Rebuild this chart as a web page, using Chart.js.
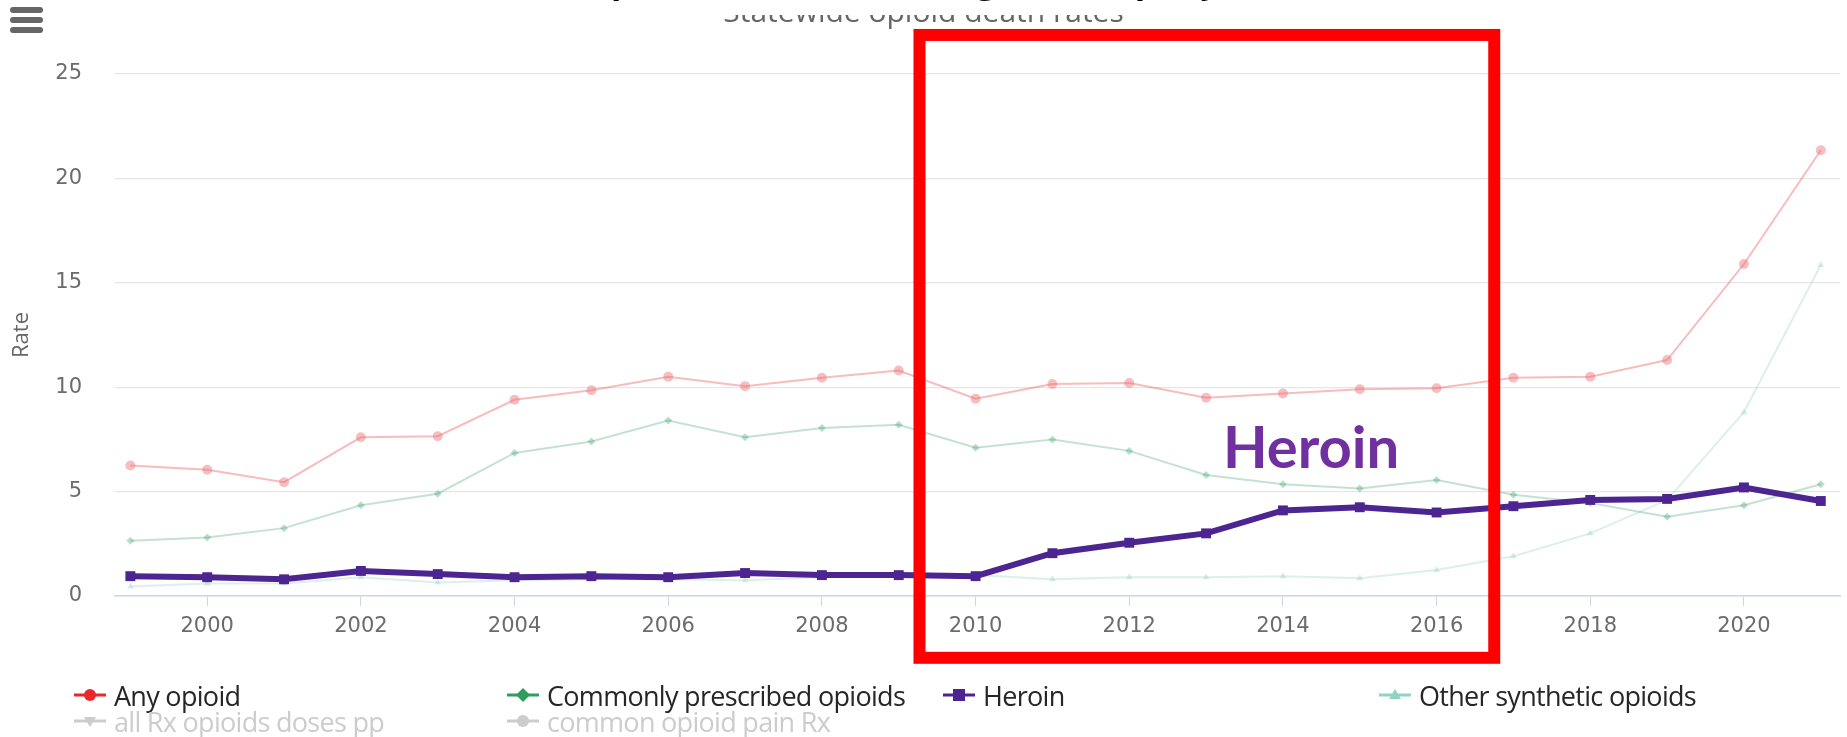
<!DOCTYPE html>
<html>
<head>
<meta charset="utf-8">
<script src="https://cdn.jsdelivr.net/npm/chart.js@4.4.1/dist/chart.umd.min.js"></script>
<style>
  html, body { margin: 0; padding: 0; background: #fff; overflow: hidden; }
  #wrap { position: relative; width: 1847px; height: 737px; overflow: hidden; }
  #chart { position: absolute; left: 0; top: 0; }
  .subtitle { position: absolute; left: 0; top: -4px; width: 1847px; text-align: center;
    font: 30px/1 "Open Sans", sans-serif; color: #666; white-space: nowrap; }
  .title { position: absolute; left: 520px; top: -37px; width: 820px; height: 52px; text-align: center;
    font: bold 34px/1 "Open Sans", sans-serif; color: #000; white-space: nowrap; background: #fff; }
  .menu { position: absolute; left: 10px; width: 33px; height: 6px; border-radius: 3px; background: #666; }
  .legend-item { position: absolute; display: flex; align-items: center; height: 26px;
    font: 27px "Open Sans", sans-serif; letter-spacing: -0.7px; color: #262626; white-space: nowrap; }
  .legend-item canvas { margin-right: 7px; }
  .legend-item.off { color: #cccccc; }
</style>
</head>
<body>
<div id="wrap">
  <canvas id="chart" width="1847" height="737"></canvas>
  <div class="subtitle">Statewide opioid death rates</div>
  <div class="title">Opioid deaths, including heroin, per year</div>
  <div class="menu" style="top:7px"></div>
  <div class="menu" style="top:17px"></div>
  <div class="menu" style="top:27px"></div>
  <div id="legend"></div>
</div>
<script>
const years = [1999, 2000, 2001, 2002, 2003, 2004, 2005, 2006, 2007, 2008, 2009, 2010,
  2011, 2012, 2013, 2014, 2015, 2016, 2017, 2018, 2019, 2020, 2021];
const anyOpioid = [6.25, 6.05, 5.45, 7.6, 7.65, 9.4, 9.85, 10.5, 10.05, 10.45, 10.8, 9.45,
  10.15, 10.2, 9.5, 9.7, 9.9, 9.95, 10.45, 10.5, 11.3, 15.9, 21.35];
const commonRx = [2.65, 2.8, 3.25, 4.35, 4.9, 6.85, 7.4, 8.4, 7.6, 8.05, 8.2, 7.1,
  7.5, 6.95, 5.8, 5.35, 5.15, 5.55, 4.85, 4.45, 3.8, 4.35, 5.35];
const heroin = [0.95, 0.9, 0.8, 1.2, 1.05, 0.9, 0.95, 0.9, 1.1, 1.0, 1.0, 0.95,
  2.05, 2.55, 3.0, 4.1, 4.25, 4.0, 4.3, 4.6, 4.65, 5.2, 4.55];
const otherSynthetic = [0.45, 0.6, 0.6, 0.9, 0.65, 0.75, 0.8, 0.8, 0.75, 0.9, 1.0, 1.0,
  0.8, 0.9, 0.9, 0.95, 0.85, 1.25, 1.9, 3.0, 4.6, 8.8, 15.85];
const xTickYears = [2000, 2002, 2004, 2006, 2008, 2010, 2012, 2014, 2016, 2018, 2020];
const yTicks = [0, 5, 10, 15, 20, 25];

function points(values) {
  return years.map((yr, i) => ({ x: yr, y: values[i] }));
}

// legend colours (full) vs faded colours used on the plot
const series = [
  { label: "Any opioid", data: anyOpioid, key: "#e8282b", line: "rgba(232,70,76,0.36)",
    fill: "rgba(236,110,116,0.45)", style: "circle", r: 5, w: 2 },
  { label: "Commonly prescribed opioids", data: commonRx, key: "#2e9e5e", line: "rgba(60,160,110,0.3)",
    fill: "rgba(60,160,110,0.35)", style: "rectRot", r: 4, w: 2 },
  { label: "Heroin", data: heroin, key: "#4c2590", line: "#4c2590",
    fill: "#4c2590", style: "rect", r: 7, w: 6, top: true },
  { label: "Other synthetic opioids", data: otherSynthetic, key: "#8fd3c1", line: "rgba(140,205,185,0.3)",
    fill: "rgba(140,205,185,0.35)", style: "triangle", r: 4, w: 2 },
  { label: "all Rx opioids doses pp", data: [], key: "#cccccc", style: "triangle", rotation: 180, r: 4, w: 2, hidden: true },
  { label: "common opioid pain Rx", data: [], key: "#cccccc", style: "circle", r: 4, w: 2, hidden: true }
];

const calloutPlugin = {
  id: "heroinCallout",
  afterDraw(chart) {
    const { ctx, scales: { x, y } } = chart;
    ctx.save();
    ctx.fillStyle = "#7030a0";
    ctx.font = "bold 58px Lato, 'Open Sans', sans-serif";
    ctx.textBaseline = "alphabetic";
    ctx.fillText("Heroin", x.getPixelForValue(2013.22), y.getPixelForValue(6.15));
    ctx.strokeStyle = "#ff0000";
    ctx.lineWidth = 12;
    const x0 = x.getPixelForValue(2009.27), x1 = x.getPixelForValue(2016.75);
    const yTop = y.getPixelForValue(26.87), yBot = y.getPixelForValue(-2.96);
    ctx.strokeRect(x0, yTop, x1 - x0, yBot - yTop);
    ctx.restore();
  }
};

const tickFont = { family: "'DejaVu Sans', sans-serif", size: 21 };

const ctx = document.getElementById("chart").getContext("2d");
const chart = new Chart(ctx, {
  type: "line",
  data: {
    datasets: series.map(s => ({
      label: s.label,
      data: points(s.data),
      hidden: !!s.hidden,
      borderColor: s.line || s.key,
      backgroundColor: s.fill || s.key,
      borderWidth: s.w,
      pointStyle: s.style,
      pointRadius: s.r,
      pointBorderWidth: 0,
      pointRotation: s.rotation || 0,
      tension: 0,
      order: s.top ? 0 : 1
    }))
  },
  options: {
    responsive: false,
    animation: false,
    layout: { padding: { top: 74, right: 4, bottom: 97, left: 0 } },
    plugins: {
      legend: { display: false },
      tooltip: { enabled: false },
      title: { display: false }
    },
    scales: {
      x: {
        type: "linear",
        min: 1998.8,
        max: 2021.25,
        afterBuildTicks: scale => { scale.ticks = xTickYears.map(v => ({ value: v })); },
        afterFit: scale => { scale.height = 44; },
        ticks: {
          color: "#6b6b6b",
          font: tickFont,
          padding: 8,
          autoSkip: false,
          maxRotation: 0,
          callback: v => String(v)
        },
        grid: { drawOnChartArea: false, drawTicks: true, tickLength: 10, color: "#ccd6eb" },
        border: { color: "#ccd6eb", width: 1.5 }
      },
      y: {
        min: 0,
        max: 25,
        afterBuildTicks: scale => { scale.ticks = yTicks.map(v => ({ value: v })); },
        afterFit: scale => { scale.width = 115; },
        ticks: {
          color: "#6b6b6b",
          font: tickFont,
          padding: 33
        },
        grid: { color: "#e6e6e6", drawTicks: false, lineWidth: 1.3 },
        border: { display: false },
        title: {
          display: true,
          text: "Rate",
          color: "#666",
          font: { family: "'Open Sans', sans-serif", size: 22 },
          padding: { top: 9, bottom: 0 }
        }
      }
    }
  },
  plugins: [calloutPlugin]
});

// html legend, laid out in four columns like the original
function legendSymbol(ds, hidden) {
  const c = document.createElement("canvas");
  c.width = 34; c.height = 20;
  const g = c.getContext("2d");
  const col = hidden ? "#cccccc" : series.find(s => s.label === ds.label).key;
  g.strokeStyle = col; g.fillStyle = col; g.lineWidth = 3;
  g.beginPath(); g.moveTo(1, 10); g.lineTo(33, 10); g.stroke();
  const st = ds.pointStyle, r = 6;
  g.beginPath();
  if (st === "circle") { g.arc(17, 10, r, 0, Math.PI * 2); }
  else if (st === "rect") { g.rect(17 - r, 10 - r, 2 * r, 2 * r); }
  else if (st === "rectRot") { g.moveTo(17, 10 - r - 1); g.lineTo(17 + r + 1, 10); g.lineTo(17, 10 + r + 1); g.lineTo(17 - r - 1, 10); }
  else if (st === "triangle" && ds.pointRotation) { g.moveTo(17 - r, 10 - 4); g.lineTo(17 + r, 10 - 4); g.lineTo(17, 10 + 6); }
  else { g.moveTo(17 - r, 10 + 4); g.lineTo(17 + r, 10 + 4); g.lineTo(17, 10 - 6); }
  g.closePath(); g.fill();
  return c;
}

const legendEl = document.getElementById("legend");
const colX = [73, 506, 942, 1378];
chart.data.datasets.forEach((ds, i) => {
  const item = document.createElement("div");
  item.className = "legend-item" + (ds.hidden ? " off" : "");
  item.style.left = colX[i % 4] + "px";
  item.style.top = (i < 4 ? 682 : 708) + "px";
  item.appendChild(legendSymbol(ds, ds.hidden));
  const span = document.createElement("span");
  span.textContent = ds.label;
  item.appendChild(span);
  legendEl.appendChild(item);
});
</script>
</body>
</html>
